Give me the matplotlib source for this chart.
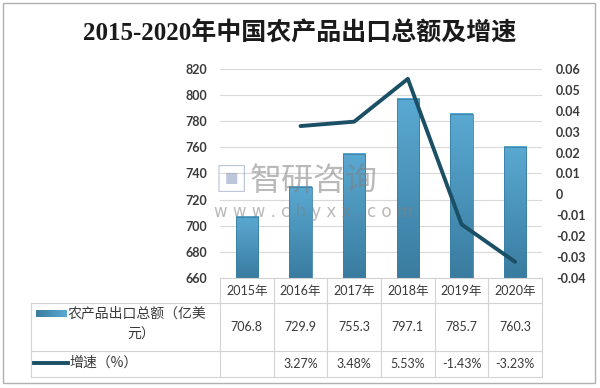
import matplotlib
matplotlib.use("Agg")
import matplotlib.pyplot as plt
import numpy as np
from matplotlib.colors import LinearSegmentedColormap
from matplotlib.patches import Rectangle
from matplotlib.lines import Line2D

years = ["2015年", "2016年", "2017年", "2018年", "2019年", "2020年"]
export_total = [706.8, 729.9, 755.3, 797.1, 785.7, 760.3]
growth = [None, 0.0327, 0.0348, 0.0553, -0.0143, -0.0323]
growth_labels = ["", "3.27%", "3.48%", "5.53%", "-1.43%", "-3.23%"]
left_ticks = [660, 680, 700, 720, 740, 760, 780, 800, 820]
right_ticks = [-0.04, -0.03, -0.02, -0.01, 0, 0.01, 0.02, 0.03, 0.04, 0.05, 0.06]
right_tick_labels = ["-0.04", "-0.03", "-0.02", "-0.01", "0", "0.01", "0.02", "0.03", "0.04", "0.05", "0.06"]
title = "2015-2020年中国农产品出口总额及增速"
bar_name = "农产品出口总额（亿美"
bar_name2 = "元）"
line_name = "增速（%）"

W, H = 600, 388
FONT = ["Lato", "Noto Sans CJK SC", "DejaVu Sans"]
CJK = ["Noto Sans CJK SC", "DejaVu Sans"]
plt.rcParams['font.family'] = FONT

fig = plt.figure(figsize=(W / 100, H / 100), dpi=100)

def P(x, y):
    return (x / W, 1 - y / H)

# outer border
fig.patches.append(Rectangle(P(3, 383), 592 / W, 380 / H, transform=fig.transFigure,
                             fill=False, edgecolor="#B0B0B0", linewidth=1.0))

L, R, T, B = 220, 542, 69, 278
ax = fig.add_axes([L / W, 1 - B / H, (R - L) / W, (B - T) / H])
ax2 = ax.twinx()

x = np.arange(len(years))
cmap = LinearSegmentedColormap.from_list("bar", ["#3A7CA0", "#5AA9D2"])
grad = np.linspace(0, 1, 100).reshape(-1, 1)
bw = 0.42
for xi, v in zip(x, export_total):
    ax.imshow(grad, cmap=cmap, origin="lower", aspect="auto",
              extent=[xi - bw / 2, xi + bw / 2, 660, v], zorder=2, interpolation="bilinear")
    ax.add_patch(Rectangle((xi - bw / 2, 660), bw, v - 660, fill=False,
                           edgecolor="#3A7FA5", linewidth=0.6, zorder=3))
ax.set_xlim(-0.5, len(years) - 0.5)
ax.set_ylim(660, 820)
ax2.set_ylim(-0.04, 0.06)

ax.set_yticks(left_ticks)
ax.set_yticklabels([str(t) for t in left_ticks])
ax.yaxis.grid(True, color="#D9D9D9", linewidth=0.8, zorder=0)
ax.set_axisbelow(True)
ax.set_xticks([])
for s in ax.spines.values():
    s.set_visible(False)
for s in ax2.spines.values():
    s.set_visible(False)
ax.tick_params(axis="y", length=0, pad=9, labelsize=9, labelcolor="#3A3A3A")
ax2.set_yticks(right_ticks)
ax2.set_yticklabels(right_tick_labels)
ax2.tick_params(axis="y", length=0, pad=10, labelsize=9, labelcolor="#3A3A3A")
for lab in ax.get_yticklabels() + ax2.get_yticklabels():
    lab.set_fontweight("bold")

gx = [xi for xi, g in zip(x, growth) if g is not None]
gy = [g for g in growth if g is not None]
ax2.plot(gx, gy, color="#1B4F66", linewidth=2.8, solid_capstyle="round", zorder=5)

# watermark
fig.text(*P(215, 181), "▣", fontsize=24, color="#7F8FB8", alpha=0.5, va="center", ha="left",
         family=CJK)
fig.text(*P(250, 181), "智研咨询", fontsize=23, color="#808080", alpha=0.55, va="center", ha="left",
         family=CJK)
fig.text(*P(214, 212), "w w w . c h y x x . c o m", fontsize=12, color="#808080", alpha=0.55,
         va="center", ha="left", family=["DejaVu Sans"])

# table
gc = "#D3D3D3"
def hline(x0, x1, y):
    fig.add_artist(Line2D([x0 / W, x1 / W], [1 - y / H, 1 - y / H], color=gc, linewidth=0.8))
def vline(xv, y0, y1):
    fig.add_artist(Line2D([xv / W, xv / W], [1 - y0 / H, 1 - y1 / H], color=gc, linewidth=0.8))

col_edges = [L + (R - L) * i / len(years) for i in range(len(years) + 1)]
rows = [278, 303, 351, 377]
hline(L, R, rows[0])
hline(31, R, rows[1])
hline(31, R, rows[2])
hline(31, R, rows[3])
for ce in col_edges:
    vline(ce, rows[0], rows[3])
vline(31, rows[1], rows[3])

tc = "#3A3A3A"
for i, yl in enumerate(years):
    cx = (col_edges[i] + col_edges[i + 1]) / 2
    fig.text(*P(cx, 291), yl, ha="center", va="center", fontsize=9, color=tc)
    fig.text(*P(cx, 327), f"{export_total[i]:.1f}", ha="center", va="center", fontsize=9, color=tc)
    fig.text(*P(cx, 364), growth_labels[i], ha="center", va="center", fontsize=9, color=tc)

# legend keys
key_ax = fig.add_axes([0, 0, 1, 1], zorder=-1)
key_ax.imshow(np.linspace(0, 1, 50).reshape(1, -1), cmap=cmap, aspect="auto",
              extent=[36, 67, 317, 310], interpolation="bilinear")
key_ax.set_xlim(0, W)
key_ax.set_ylim(H, 0)
key_ax.axis("off")
fig.add_artist(Line2D([34 / W, 68 / W], [1 - 363 / H, 1 - 363 / H], color="#1B4F66", linewidth=2.8))
fig.text(*P(68, 313), bar_name, ha="left", va="center", fontsize=10, color=tc, family=CJK,
         fontweight="medium")
fig.text(*P(141, 335), bar_name2, ha="center", va="center", fontsize=10, color=tc, family=CJK,
         fontweight="medium")
fig.text(*P(69, 363), line_name, ha="left", va="center", fontsize=10, color=tc, family=CJK,
         fontweight="medium")

# title
fig.text(*P(300, 33), title, ha="center", va="center", fontsize=18, color="#1A1A1A",
         fontweight="bold", family=["Liberation Serif", "Noto Sans CJK SC"])

fig.savefig("out.png", dpi=100)
